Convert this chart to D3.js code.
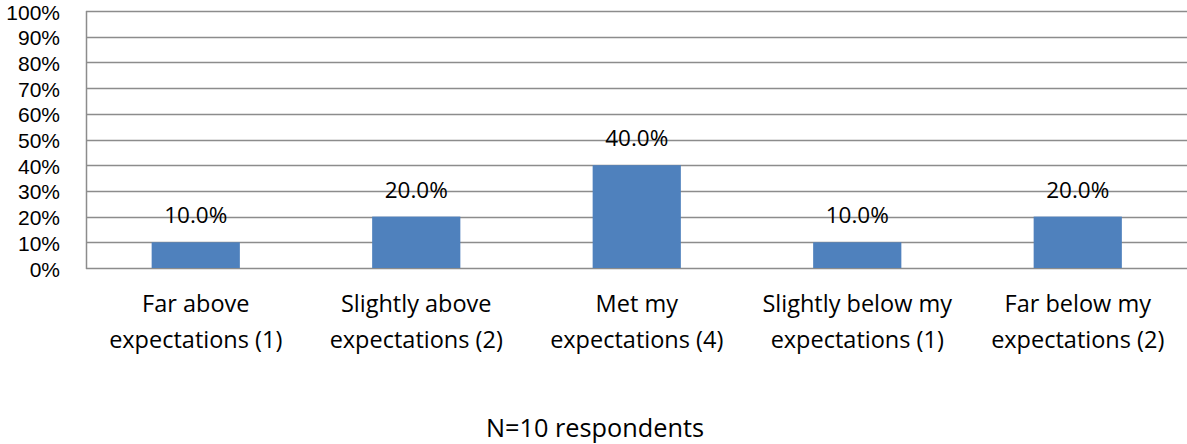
<!DOCTYPE html>
<html>
<head>
<meta charset="utf-8">
<script src="https://cdn.jsdelivr.net/npm/d3@7"></script>
<style>
  html, body { margin: 0; padding: 0; background: #fff; }
  svg { display: block; }
  text { font-family: "Open Sans", "Noto Sans", sans-serif; fill: #000; }
  text.tick { font-family: "Liberation Sans", Arial, sans-serif; }
</style>
</head>
<body>
<svg id="chart" width="1187" height="444"></svg>
<script>
const categories = [
  ["Far above", "expectations (1)"],
  ["Slightly above", "expectations (2)"],
  ["Met my", "expectations (4)"],
  ["Slightly below my", "expectations (1)"],
  ["Far below my", "expectations (2)"]
];
const values = [0.10, 0.20, 0.40, 0.10, 0.20];
const yTicks = [0, 0.1, 0.2, 0.3, 0.4, 0.5, 0.6, 0.7, 0.8, 0.9, 1.0];
const footnote = "N=10 respondents";

(function () {
const svg = d3.select("#chart");
const plotL = 86, plotR = 1188, plotT = 11, plotB = 268;

const x = d3.scaleBand()
  .domain(d3.range(categories.length))
  .range([plotL - 0.5, plotR])
  .paddingInner(0.6)
  .paddingOuter(0.3);
const y = d3.scaleLinear().domain([0, 1]).range([plotB, plotT]);

// gridlines
svg.append("g").selectAll("line").data(yTicks).join("line")
  .attr("x1", plotL).attr("x2", 1187)
  .attr("y1", d => Math.round(y(d)) + 0.5).attr("y2", d => Math.round(y(d)) + 0.5)
  .attr("stroke", "#8c8c8c").attr("stroke-width", 1.5);

// y axis line
svg.append("line")
  .attr("x1", plotL + 0.5).attr("x2", plotL + 0.5)
  .attr("y1", y(1)).attr("y2", y(0) + 1)
  .attr("stroke", "#8c8c8c").attr("stroke-width", 1.5);

// y tick labels
const fmtTick = d3.format(".0%");
svg.append("g").selectAll("text").data(yTicks).join("text")
  .attr("class", "tick")
  .attr("x", 60).attr("y", d => y(d) + 8.5)
  .attr("text-anchor", "end")
  .attr("font-size", 21)
  .text(d => fmtTick(d));

// bars
svg.append("g").selectAll("rect").data(values).join("rect")
  .attr("x", (d, i) => x(i))
  .attr("width", x.bandwidth())
  .attr("y", d => y(d))
  .attr("height", d => y(0) - y(d))
  .attr("fill", "#4f81bd");

// data labels
const fmtVal = d3.format(".1%");
svg.append("g").selectAll("text").data(values).join("text")
  .attr("x", (d, i) => x(i) + x.bandwidth() / 2)
  .attr("y", d => y(d) - 19)
  .attr("text-anchor", "middle")
  .attr("font-size", 22.5)
  .text(d => fmtVal(d));

// category labels
const cat = svg.append("g").selectAll("text").data(categories).join("text")
  .attr("text-anchor", "middle")
  .attr("font-size", 23.5);
cat.each(function (d, i) {
  const t = d3.select(this);
  const cx = x(i) + x.bandwidth() / 2;
  d.forEach((line, j) => {
    t.append("tspan").attr("x", cx).attr("y", 311.5 + j * 36).text(line);
  });
});

// footnote
svg.append("text")
  .attr("x", 595).attr("y", 437)
  .attr("text-anchor", "middle")
  .attr("font-size", 25.3)
  .text(footnote);
})();
</script>
</body>
</html>
